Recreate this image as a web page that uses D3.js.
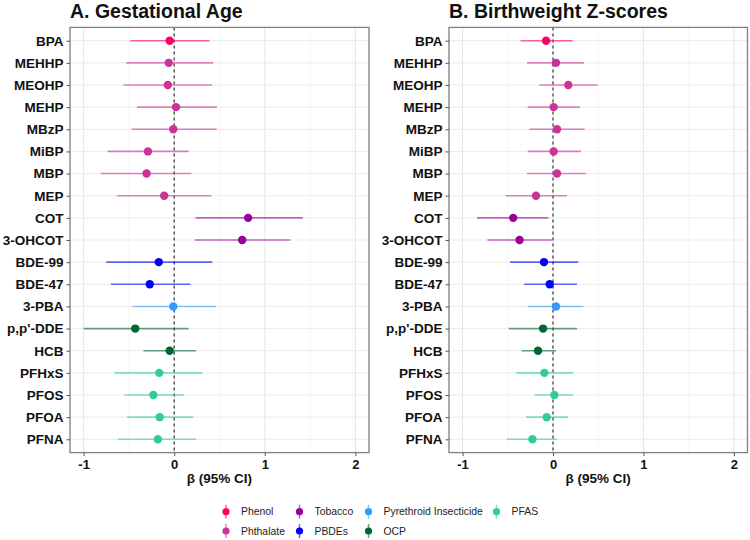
<!DOCTYPE html>
<html><head><meta charset="utf-8">
<script src="https://cdn.jsdelivr.net/npm/d3@7"></script>
<style>body{margin:0;background:#fff}svg{display:block}text{font-family:"Liberation Sans",Arial,sans-serif}</style>
</head><body><svg id="c" width="750" height="540"></svg>
<script>
const chemicals = ["BPA","MEHHP","MEOHP","MEHP","MBzP","MiBP","MBP","MEP","COT","3-OHCOT","BDE-99","BDE-47","3-PBA","p,p'-DDE","HCB","PFHxS","PFOS","PFOA","PFNA"];
const classes = ["Phenol","Phthalate","Phthalate","Phthalate","Phthalate","Phthalate","Phthalate","Phthalate","Tobacco","Tobacco","PBDEs","PBDEs","Pyrethroid Insecticide","OCP","OCP","PFAS","PFAS","PFAS","PFAS"];
// Panel A: Gestational Age
const gaEst = [-0.05,-0.06,-0.07,0.02,-0.01,-0.29,-0.305,-0.11,0.816,0.75,-0.17,-0.27,-0.01,-0.43,-0.05,-0.165,-0.23,-0.16,-0.18];
const gaLo  = [-0.485,-0.53,-0.56,-0.41,-0.47,-0.735,-0.81,-0.63,0.235,0.228,-0.75,-0.70,-0.46,-1.0,-0.34,-0.66,-0.55,-0.52,-0.62];
const gaHi  = [0.39,0.43,0.42,0.47,0.47,0.16,0.19,0.41,1.42,1.28,0.42,0.18,0.46,0.16,0.24,0.31,0.107,0.21,0.24];
// Panel B: Birthweight Z-scores
const bwEst = [-0.077,0.033,0.169,0.007,0.044,0.007,0.044,-0.188,-0.44,-0.37,-0.10,-0.037,0.033,-0.11,-0.166,-0.096,0.015,-0.07,-0.228];
const bwLo  = [-0.36,-0.287,-0.151,-0.28,-0.261,-0.28,-0.287,-0.522,-0.84,-0.725,-0.475,-0.32,-0.28,-0.49,-0.346,-0.405,-0.206,-0.298,-0.508];
const bwHi  = [0.217,0.342,0.493,0.298,0.35,0.309,0.364,0.155,-0.05,-0.015,0.28,0.265,0.335,0.265,0.033,0.22,0.22,0.166,0.044];
const xTicks = [-1,0,1,2];
const legendOrder = ["Phenol","Phthalate","Tobacco","PBDEs","Pyrethroid Insecticide","OCP","PFAS"];
const classColors = ["#FF0066","#CC3399","#990099","#0000FF","#3399FF","#006633","#33CC99"];

const svg = d3.select("#c");
const color = d3.scaleOrdinal().domain(legendOrder).range(classColors);

function panel(x0, x1, title, est, lo, hi) {
  const x = d3.scaleLinear().domain([-1.15, 2.15]).range([x0, x1]);
  const y = d3.scalePoint().domain(chemicals).range([40.7, 439.3]);
  const top = 27.4, bot = 452.6;
  const g = svg.append("g");
  [-0.5,0.5,1.5].forEach(v => g.append("line").attr("x1",x(v)).attr("x2",x(v)).attr("y1",top).attr("y2",bot).attr("stroke","#f2f2f2").attr("stroke-width",0.8));
  xTicks.forEach(v => g.append("line").attr("x1",x(v)).attr("x2",x(v)).attr("y1",top).attr("y2",bot).attr("stroke","#e6e6e6").attr("stroke-width",1));
  chemicals.forEach(c => g.append("line").attr("x1",x0).attr("x2",x1).attr("y1",y(c)).attr("y2",y(c)).attr("stroke","#ebebeb").attr("stroke-width",1));
  g.append("line").attr("x1",x(0)).attr("x2",x(0)).attr("y1",top).attr("y2",bot)
    .attr("stroke","#444").attr("stroke-width",1.3).attr("stroke-dasharray","3,3");
  chemicals.forEach((c,i) => {
    g.append("line").attr("x1",x(lo[i])).attr("x2",x(hi[i])).attr("y1",y(c)).attr("y2",y(c))
      .attr("stroke",color(classes[i])).attr("stroke-opacity",0.6).attr("stroke-width",1.6);
  });
  chemicals.forEach((c,i) => {
    g.append("circle").attr("cx",x(est[i])).attr("cy",y(c)).attr("r",4.2).attr("fill",color(classes[i]));
  });
  g.append("rect").attr("x",x0).attr("y",top).attr("width",x1-x0).attr("height",bot-top)
    .attr("fill","none").attr("stroke","#7f7f7f").attr("stroke-width",1.3);
  const xa = g.append("g").attr("transform",`translate(0,${bot})`).call(d3.axisBottom(x).tickValues(xTicks).tickFormat(d3.format("d")).tickSize(3.5).tickPadding(4));
  xa.select(".domain").remove();
  xa.selectAll("line").attr("stroke","#555");
  xa.selectAll("text").attr("font-size",13).attr("font-weight","bold").attr("fill","#111").attr("dy","0.72em").text(d => d < 0 ? "-" + Math.abs(d) : d);
  const ya = g.append("g").attr("transform",`translate(${x0},0)`).call(d3.axisLeft(y).tickSize(3.5).tickPadding(3));
  ya.select(".domain").remove();
  ya.selectAll("line").attr("stroke","#555");
  ya.selectAll("text").attr("font-size",13.5).attr("font-weight","bold").attr("fill","#111");
  g.append("text").attr("x",(x0+x1)/2).attr("y",483).attr("text-anchor","middle")
    .attr("font-size",13.5).attr("font-weight","bold").attr("fill","#111").text("β (95% CI)");
  g.append("text").attr("x",x0).attr("y",17.5).attr("font-size",19.5).attr("font-weight","bold").attr("fill","#111").text(title);
}
panel(70, 369, "A. Gestational Age", gaEst, gaLo, gaHi);
panel(449, 747.5, "B. Birthweight Z-scores", bwEst, bwLo, bwHi);

const colX = [226, 299.5, 368.5, 496.5];
const rowY = [511.7, 531];
const lg = svg.append("g");
legendOrder.forEach((k,i) => {
  const cx = colX[Math.floor(i/2)], cy = rowY[i%2];
  lg.append("line").attr("x1",cx).attr("x2",cx).attr("y1",cy-7).attr("y2",cy+7).attr("stroke",color(k)).attr("stroke-opacity",0.6).attr("stroke-width",1.5);
  lg.append("circle").attr("cx",cx).attr("cy",cy).attr("r",3.6).attr("fill",color(k));
  lg.append("text").attr("x",cx+15).attr("y",cy).attr("dy","0.35em").attr("font-size",10.4).attr("fill","#222").text(k);
});
</script></body></html>
